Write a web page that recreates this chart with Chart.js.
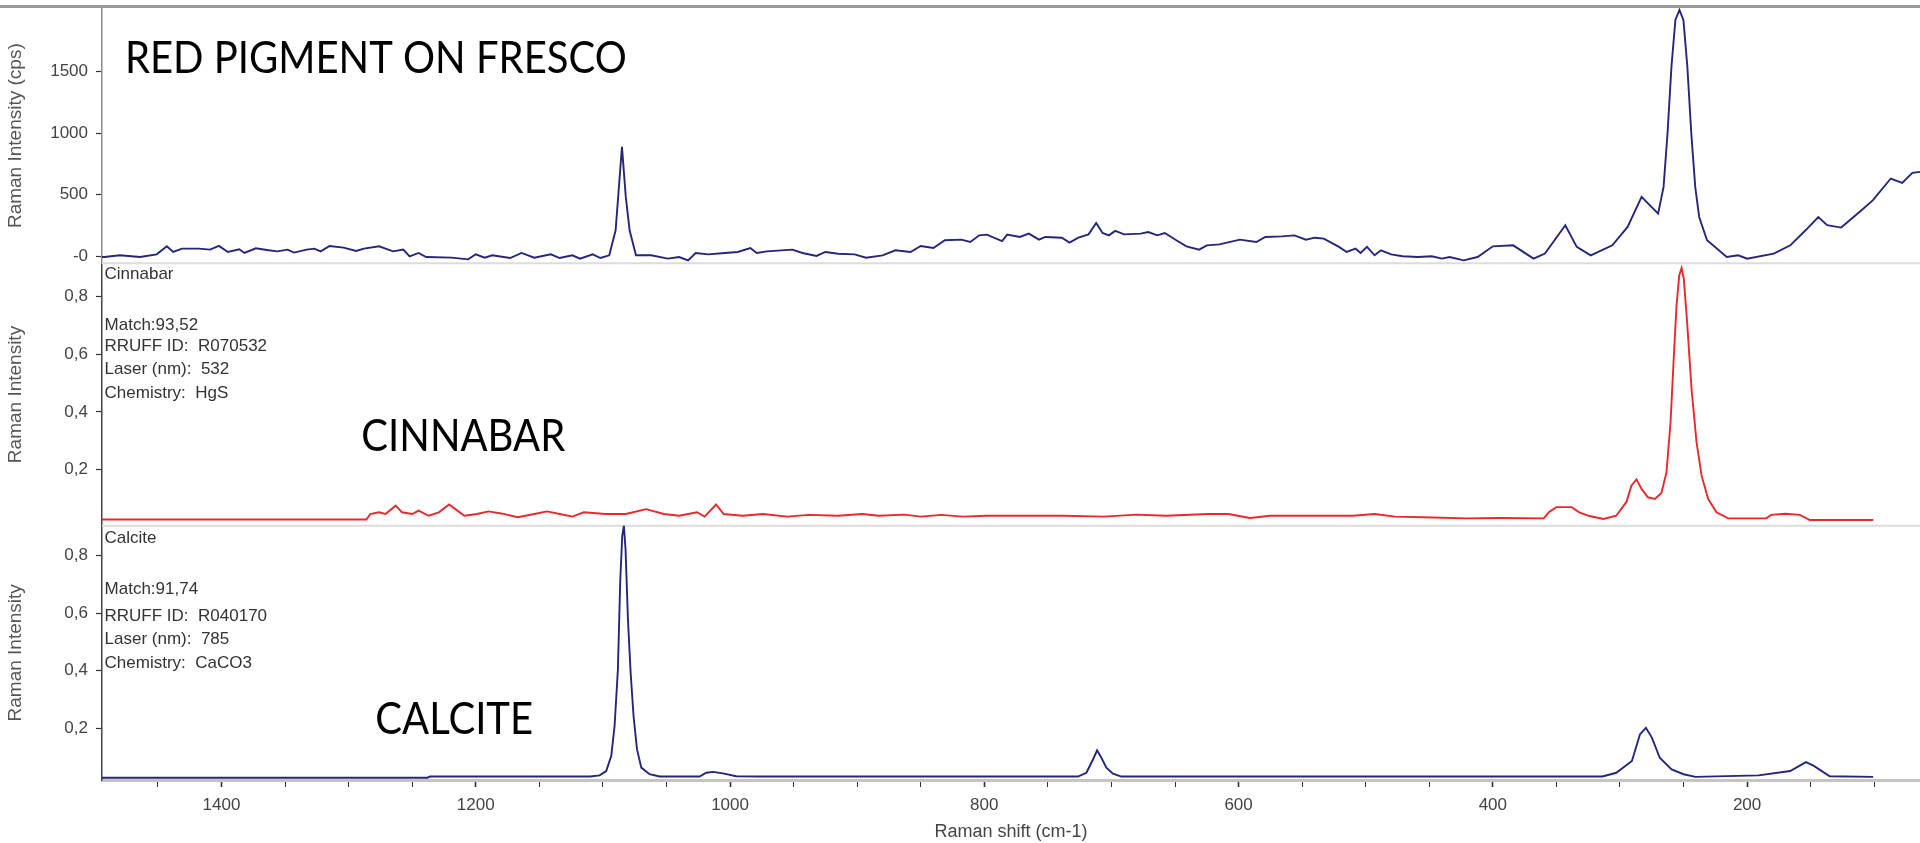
<!DOCTYPE html>
<html>
<head>
<meta charset="utf-8">
<title>Raman spectra - red pigment on fresco</title>
<script src="https://cdn.jsdelivr.net/npm/chart.js@4.4.1/dist/chart.umd.min.js"></script>
<style>
  html, body { margin: 0; padding: 0; background: #fff; overflow: hidden; }
  #wrap { position: relative; width: 1920px; height: 843px; }
</style>
</head>
<body>
<div id="wrap"><canvas id="raman" width="1920" height="843"></canvas></div>
<script>
// ---------- Data ----------
// Raman shift in cm-1, intensities per panel

const frescoShift = [1494, 1492, 1480, 1464, 1451, 1443, 1438, 1431, 1418, 1409, 1402, 1395, 1386, 1382, 1373, 1363, 1356, 1348, 1343, 1333,
  1327, 1322, 1315, 1304, 1294, 1288, 1276, 1271, 1265, 1257, 1252, 1245, 1239, 1219, 1206, 1200, 1193, 1187, 1173, 1164,
  1154, 1141, 1134, 1124, 1118, 1108, 1102, 1095, 1090, 1088, 1085, 1082, 1079, 1074, 1062, 1049, 1040, 1033, 1027, 1017,
  1004, 994, 984, 979, 971, 951, 943, 932, 925, 915, 902, 893, 880, 870, 858, 850, 840, 831, 818, 811,
  804, 798, 786, 782, 772, 765, 757, 752, 739, 733, 726, 718, 712, 707, 702, 697, 690, 677, 671, 664,
  658, 649, 641, 631, 625, 615, 599, 586, 579, 566, 556, 547, 540, 533, 521, 515, 508, 504, 499, 493,
  488, 480, 471, 459, 448, 440, 434, 423, 412, 400, 384, 368, 359, 343, 334, 323, 306, 294, 283, 270,
  265.7, 262.6, 259.5, 256.4, 253.2, 250.1, 247, 243.9, 240.8, 237.7, 231.5, 216, 207, 200, 179, 166, 154, 144, 137, 126,
  110, 101, 87, 78, 70, 64];
const frescoIntensity = [-6, -6, 8, -6, 16, 81, 35, 62, 62, 54, 84, 35, 57, 27, 65, 49, 40, 54, 30, 54,
  62, 40, 84, 70, 43, 62, 81, 62, 40, 54, 0, 27, -6, -11, -25, 16, -11, 8, -14, 27,
  -11, 16, -14, 8, -19, 16, -14, 8, 211, 482, 887, 482, 211, 8, 8, -19, -6, -33, 27, 16,
  27, 35, 67, 27, 40, 54, 27, 3, 35, 21, 16, -11, 8, 49, 35, 84, 67, 130, 135, 116,
  170, 176, 124, 176, 157, 184, 135, 157, 151, 111, 151, 178, 270, 189, 170, 206, 178, 184, 197, 170,
  189, 130, 81, 54, 89, 97, 135, 116, 157, 162, 170, 135, 151, 143, 76, 35, 62, 27, 76, 8,
  49, 16, 0, -6, 0, -19, -6, -33, -6, 81, 89, -19, 22, 252, 76, 8, 89, 238, 482, 346,
  563, 996, 1538, 1917, 1998, 1917, 1538, 996, 563, 319, 130, -6, 8, -19, 22, 89, 211, 319, 252, 233,
  374, 455, 631, 596, 677, 685];

const cinnabarShift = [1494, 1286, 1283, 1276, 1271, 1263, 1258, 1250, 1245, 1237, 1229, 1221, 1216, 1209, 1199, 1190, 1180, 1167, 1154, 1144,
  1134, 1124, 1115, 1098, 1082, 1066, 1052, 1040, 1026, 1020, 1011, 1005, 990, 974, 955, 938, 915, 896, 883, 863,
  850, 834, 817, 798, 771, 738, 706, 680, 657, 624, 608, 591, 575, 542, 510, 493, 477, 447, 421, 395,
  360, 356, 350, 338, 332, 324, 313, 303, 295, 291, 287, 283, 278, 272.5, 267.4, 263.4, 260.2, 257.6, 255.5, 253.4,
  251.5, 249.8, 247.2, 243.7, 239.8, 235.8, 230.6, 224.1, 214.8, 185, 181, 170, 158.5, 150.6, 100.8];
const cinnabarIntensity = [0.027, 0.027, 0.046, 0.052, 0.046, 0.075, 0.052, 0.046, 0.058, 0.040, 0.052, 0.079, 0.063, 0.040, 0.046, 0.055, 0.048, 0.035, 0.046, 0.055,
  0.046, 0.037, 0.052, 0.046, 0.046, 0.063, 0.046, 0.040, 0.052, 0.037, 0.079, 0.046, 0.040, 0.046, 0.037, 0.043, 0.040, 0.046, 0.040, 0.044,
  0.037, 0.043, 0.037, 0.040, 0.040, 0.040, 0.037, 0.044, 0.040, 0.046, 0.046, 0.032, 0.040, 0.040, 0.040, 0.046, 0.037, 0.034, 0.031, 0.032,
  0.031, 0.052, 0.070, 0.070, 0.052, 0.039, 0.029, 0.040, 0.087, 0.144, 0.166, 0.133, 0.104, 0.098, 0.119, 0.191, 0.365, 0.596, 0.769, 0.873,
  0.899, 0.862, 0.712, 0.480, 0.296, 0.179, 0.098, 0.052, 0.031, 0.031, 0.043, 0.047, 0.043, 0.025, 0.025];

const calciteShift = [1494, 1238, 1236, 1110, 1102.6, 1097.4, 1093.4, 1090.8, 1088.2, 1086.4, 1084.8, 1083.5, 1082.2, 1080.3, 1078.2, 1075.9, 1073.2, 1069.8, 1063.3, 1055.4,
  1024, 1018.7, 1013.4, 1005.6, 995.1, 976.7, 726.3, 719.7, 714.4, 711.3, 707.9, 704, 698.8, 692.2, 313.8, 302.9, 290.6, 284.3, 279.6, 274.9,
  268.7, 259.4, 250, 240.6, 191, 166.1, 153.7, 147.5, 135, 100.8];
const calciteIntensity = [0.029, 0.029, 0.033, 0.033, 0.037, 0.052, 0.105, 0.209, 0.405, 0.706, 0.868, 0.903, 0.822, 0.578, 0.394, 0.243, 0.128, 0.064, 0.041, 0.033,
  0.033, 0.046, 0.049, 0.044, 0.034, 0.033, 0.033, 0.046, 0.093, 0.124, 0.098, 0.064, 0.043, 0.033, 0.033, 0.046, 0.087, 0.179, 0.202, 0.168,
  0.098, 0.058, 0.041, 0.032, 0.037, 0.052, 0.083, 0.070, 0.034, 0.032];

const topTicks = [0, 500, 1000, 1500];
const unitTicks = [0.2, 0.4, 0.6, 0.8];

const cinnabarInfo = ['Cinnabar', 'Match:93,52', 'RRUFF ID:  R070532', 'Laser (nm):  532', 'Chemistry:  HgS'];
const calciteInfo = ['Calcite', 'Match:91,74', 'RRUFF ID:  R040170', 'Laser (nm):  785', 'Chemistry:  CaCO3'];
// value on the panel axis for each line of the reference card
const cinnabarRows = [0.877, 0.700, 0.627, 0.546, 0.465];
const calciteRows = [0.860, 0.683, 0.589, 0.508, 0.427];

const FONT = '"Liberation Sans", Arial, sans-serif';
const NAVY = '#25257c';
const RED = '#e8282c';

function pairs(xs, ys) {
  return xs.map((x, i) => ({ x: x, y: ys[i] }));
}

function commaTick(v) {
  return v.toFixed(1).replace('.', ',');
}

function yScale(opts, tickValues, label, fmt, border) {
  return Object.assign({
    type: 'linear',
    position: 'left',
    stack: 'panels',
    // fixed gutter, and no extra room for the end labels so the panels fill the frame
    afterFit: s => { s.width = 102; s.paddingTop = 0; s.paddingBottom = 0; },
    afterBuildTicks: s => { s.ticks = tickValues.map(v => ({ value: v })); },
    border: border,
    grid: { drawOnChartArea: false, tickLength: 6, tickColor: '#333', tickWidth: 1.2 },
    ticks: { color: '#444', padding: 8, font: { family: FONT, size: 17 }, callback: fmt },
    title: { display: true, text: label, color: '#555', font: { family: FONT, size: 19 }, padding: { top: 4, bottom: 0 } }
  }, opts);
}

// ---------- Separators, frame and text ----------
const panelDecor = {
  id: 'panelDecor',
  beforeDatasetsDraw(chart) {
    const { ctx, chartArea, scales } = chart;
    ctx.save();
    ctx.strokeStyle = '#dcdcdc';
    ctx.lineWidth = 2;
    [scales.yTop.bottom, scales.yMid.bottom].forEach(y => {
      ctx.beginPath();
      ctx.moveTo(chartArea.left, y);
      ctx.lineTo(chartArea.right, y);
      ctx.stroke();
    });
    ctx.strokeStyle = '#9a9a9a';
    ctx.lineWidth = 3;
    ctx.beginPath();
    ctx.moveTo(0, chartArea.top - 1.5);
    ctx.lineTo(chart.width, chartArea.top - 1.5);
    ctx.stroke();
    ctx.restore();
  },
  afterDatasetsDraw(chart) {
    const { ctx, scales } = chart;
    const x = scales.x;
    const bigText = (t, xv, scale, yv) => {
      ctx.save();
      ctx.translate(x.getPixelForValue(xv), scale.getPixelForValue(yv));
      ctx.scale(0.91, 1);   // narrower face, like the original title font
      ctx.fillText(t, 0, 0);
      ctx.restore();
    };
    ctx.save();
    ctx.fillStyle = '#000';
    ctx.textBaseline = 'alphabetic';
    ctx.font = '44px Lato, "Open Sans", sans-serif';
    bigText('RED PIGMENT ON FRESCO', 1476, scales.yTop, 1486);
    bigText('CINNABAR', 1290, scales.yMid, 0.265);
    bigText('CALCITE', 1279, scales.yBot, 0.18);
    // reference card text
    ctx.fillStyle = '#333';
    ctx.textBaseline = 'middle';
    ctx.font = '17px ' + FONT;
    cinnabarInfo.forEach((t, i) => ctx.fillText(t, x.getPixelForValue(1492), scales.yMid.getPixelForValue(cinnabarRows[i])));
    calciteInfo.forEach((t, i) => ctx.fillText(t, x.getPixelForValue(1492), scales.yBot.getPixelForValue(calciteRows[i])));
    ctx.restore();
  }
};

new Chart(document.getElementById('raman').getContext('2d'), {
  type: 'line',
  data: {
    datasets: [
      { label: 'Red pigment on fresco', data: pairs(frescoShift, frescoIntensity), yAxisID: 'yTop', borderColor: NAVY },
      { label: 'Cinnabar', data: pairs(cinnabarShift, cinnabarIntensity), yAxisID: 'yMid', borderColor: RED },
      { label: 'Calcite', data: pairs(calciteShift, calciteIntensity), yAxisID: 'yBot', borderColor: NAVY }
    ]
  },
  options: {
    responsive: false,
    animation: false,
    devicePixelRatio: 1,
    layout: { padding: { top: 8, left: 0, right: 0, bottom: 0 } },
    elements: { point: { radius: 0 }, line: { borderWidth: 1.9, tension: 0 } },
    plugins: { legend: { display: false }, tooltip: { enabled: false } },
    scales: {
      x: {
        type: 'linear',
        reverse: true,
        min: 64,
        max: 1494,
        afterFit: s => { s.height = 63; s.paddingLeft = 0; s.paddingRight = 0; },
        border: { color: '#c4c4c4', width: 3 },
        grid: { drawOnChartArea: false, tickLength: 7, tickColor: '#333', tickWidth: c => (c.tick && c.tick.value % 200 === 0 ? 1.6 : 1) },
        ticks: {
          stepSize: 50, includeBounds: false, autoSkip: false, maxRotation: 0, padding: 8,
          color: '#444', font: { family: FONT, size: 17 },
          callback: v => (v % 200 === 0 ? String(v) : '')
        },
        title: { display: true, text: 'Raman shift (cm-1)', color: '#444', font: { family: FONT, size: 18 }, padding: { top: 4, bottom: 0 } }
      },
      yBot: yScale({ min: 0.021, max: 0.903, stackWeight: 254 }, unitTicks, 'Raman Intensity', commaTick,
        { color: '#444', width: 1.5, dash: [2, 2] }),
      yMid: yScale({ min: 0.0056, max: 0.915, stackWeight: 262 }, unitTicks, 'Raman Intensity', commaTick,
        { color: '#444', width: 1.5, dash: [2, 2] }),
      yTop: yScale({ min: -57, max: 2014, stackWeight: 255 }, topTicks, 'Raman Intensity (cps)',
        v => (v === 0 ? '-0' : String(v)), { color: '#8a8a8a', width: 1.5 })
    }
  },
  plugins: [panelDecor]
});
</script>
</body>
</html>
